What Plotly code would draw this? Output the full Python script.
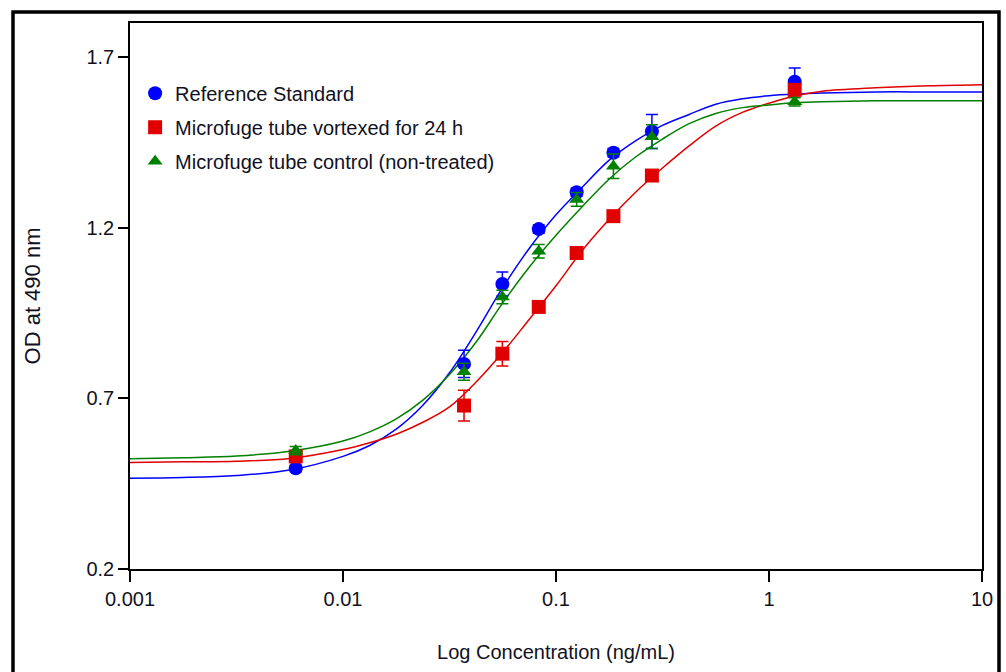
import plotly.graph_objects as go

# ---------------- data ----------------
conc = [0.006, 0.037, 0.056, 0.083, 0.125, 0.186, 0.282, 1.32]

ref_od = [0.495, 0.801, 1.035, 1.196, 1.304, 1.420, 1.482, 1.628]
ref_err = [0.010, 0.040, 0.035, 0.012, 0.012, 0.012, 0.050, 0.040]

vortex_od = [0.530, 0.679, 0.831, 0.968, 1.126, 1.234, 1.353, 1.604]
vortex_err = [0.012, 0.045, 0.036, 0.012, 0.012, 0.012, 0.012, 0.012]

control_od = [0.547, 0.778, 0.997, 1.131, 1.283, 1.380, 1.467, 1.569]
control_err = [0.012, 0.025, 0.020, 0.020, 0.020, 0.036, 0.035, 0.012]

# fitted curves (x as log10 concentration)
fit_logx = [-3.0, -2.75, -2.5, -2.25, -2.0, -1.875, -1.75, -1.625, -1.5, -1.375,
            -1.25, -1.125, -1.0, -0.875, -0.75, -0.625, -0.5, -0.375, -0.25,
            -0.125, 0.0, 0.125, 0.25, 0.5, 0.75, 1.0]
fit_ref = [0.466, 0.468, 0.474, 0.490, 0.530, 0.562, 0.610, 0.680, 0.775, 0.895,
           1.025, 1.140, 1.238, 1.320, 1.398, 1.455, 1.500, 1.532, 1.562,
           1.578, 1.587, 1.592, 1.595, 1.598, 1.598, 1.598]
fit_vortex = [0.512, 0.514, 0.516, 0.524, 0.550, 0.570, 0.595, 0.630, 0.675, 0.748,
              0.835, 0.932, 1.030, 1.135, 1.225, 1.305, 1.375, 1.440, 1.498,
              1.538, 1.565, 1.587, 1.600, 1.610, 1.616, 1.619]
fit_control = [0.523, 0.526, 0.531, 0.545, 0.575, 0.602, 0.640, 0.695, 0.770, 0.865,
               0.980, 1.085, 1.178, 1.263, 1.343, 1.408, 1.460, 1.505, 1.535,
               1.552, 1.560, 1.566, 1.569, 1.572, 1.572, 1.572]

names = ["Reference Standard", "Microfuge tube vortexed for 24 h",
         "Microfuge tube control (non-treated)"]
colors = ["#0000FF", "#E00000", "#008000"]
symbols = ["circle", "square", "triangle-up"]
sizes = [14, 14, 13]

x_ticks = [0.001, 0.01, 0.1, 1, 10]
x_ticktext = ["0.001", "0.01", "0.1", "1", "10"]
y_ticks = [0.2, 0.7, 1.2, 1.7]
y_ticktext = ["0.2", "0.7", "1.2", "1.7"]

FONT = "Liberation Sans, Arial, sans-serif"
TXT = "#111122"

fig = go.Figure()

fit_x = [10 ** v for v in fit_logx]
for fy, c in zip([fit_ref, fit_vortex, fit_control], colors):
    fig.add_trace(go.Scatter(x=fit_x, y=fy, mode="lines",
                             line=dict(color=c, width=1.5, shape="spline"),
                             showlegend=False, hoverinfo="skip"))

for i, (od, err) in enumerate([(ref_od, ref_err), (vortex_od, vortex_err),
                               (control_od, control_err)]):
    fig.add_trace(go.Scatter(
        x=conc, y=od, mode="markers", name=names[i], legendgroup=f"g{i}",
        marker=dict(color=colors[i], symbol=symbols[i], size=sizes[i],
                    line=dict(width=0)),
        error_y=dict(type="data", array=err, visible=True, color=colors[i],
                     thickness=1.5, width=6)))

fig.update_layout(
    width=1006, height=672,
    margin=dict(l=130, r=24, t=23, b=101),
    paper_bgcolor="white", plot_bgcolor="white",
    font=dict(family=FONT, size=20, color=TXT),
    showlegend=True,
    legend=dict(x=0.006, y=0.907, xanchor="left", yanchor="top",
                bgcolor="rgba(0,0,0,0)", font=dict(size=20, color=TXT),
                tracegroupgap=5, itemsizing="trace"),
    xaxis=dict(type="log", range=[-3, 1], tickvals=x_ticks, ticktext=x_ticktext,
               showline=True, mirror=True, linecolor="black", linewidth=1.5,
               ticks="outside", ticklen=11, tickwidth=1.5, tickcolor="black",
               showgrid=False, zeroline=False,
               tickfont=dict(size=20, color=TXT),
               title=dict(text="Log Concentration (ng/mL)", standoff=36,
                          font=dict(size=20, color=TXT))),
    yaxis=dict(range=[0.2, 1.8], tickvals=y_ticks, ticktext=y_ticktext,
               showline=True, mirror=True, linecolor="black", linewidth=1.5,
               ticks="outside", ticklen=10, tickwidth=1.5, tickcolor="black",
               showgrid=False, zeroline=False,
               tickfont=dict(size=20, color=TXT),
               title=dict(text="OD at 490 nm", standoff=40,
                          font=dict(size=22, color=TXT))),
)

# outer frame around the whole figure (continues below the visible area)
fig.add_shape(type="rect", xref="paper", yref="paper",
              x0=(13 - 130) / 852, x1=(999 - 130) / 852,
              y0=-0.4, y1=(571 - 12) / 548,
              line=dict(color="black", width=3.5), layer="above")

fig.write_html("out.html")
